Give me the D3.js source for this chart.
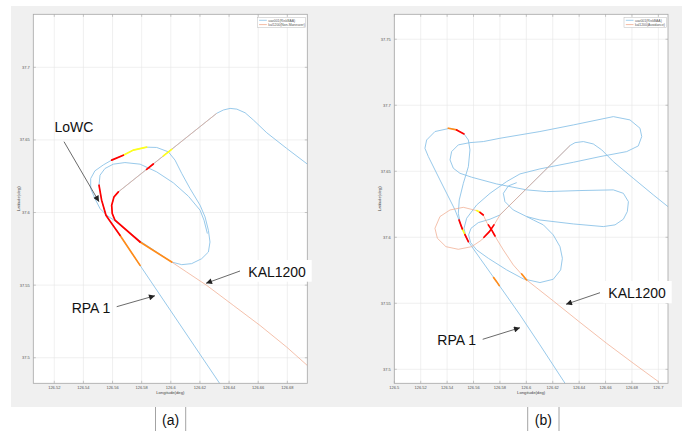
<!DOCTYPE html>
<html>
<head>
<meta charset="utf-8">
<script src="https://cdnjs.cloudflare.com/ajax/libs/d3/7.8.5/d3.min.js"></script>
<style>
  body { margin: 0; background: #fff; }
  svg { display: block; font-family: Arial, "Liberation Sans", sans-serif; }
</style>
</head>
<body>
<div id="chart"></div>
<script>
// tick values
const ticksLonA = [126.52, 126.54, 126.56, 126.58, 126.6, 126.62, 126.64, 126.66, 126.68];
const ticksLatA = [37.5, 37.55, 37.6, 37.65, 37.7];
const ticksLonB = [126.5, 126.52, 126.54, 126.56, 126.58, 126.6, 126.62, 126.64, 126.66, 126.68, 126.7];
const ticksLatB = [37.5, 37.55, 37.6, 37.65, 37.7, 37.75];

const legendA = ['uav001(RiskBAA)', 'kal1200(Non-Maneuver)'];
const legendB = ['uav001(RiskBAA)', 'kal1200(Avoidance)'];

// ---- panel (a) tracks [lon, lat]
const uavEntryA = [[126.6938,37.6333],[126.6796,37.6441],[126.6659,37.6549],[126.6567,37.6637],[126.6510,37.6687],[126.6453,37.6712],[126.6407,37.6717],[126.6361,37.6706],[126.6315,37.6683],[126.5640,37.6142]];
const uavRpaA = [[126.6384,37.4751],[126.5789,37.5636],[126.5651,37.5843],[126.5582,37.5942],[126.5555,37.5981],[126.5525,37.6085],[126.5507,37.6188]];
const uavLoopA = [[126.5514,37.6027],[126.5479,37.6096],[126.5450,37.6165],[126.5450,37.6234],[126.5479,37.6287],[126.5537,37.6328],[126.5594,37.6361],[126.5674,37.6395],[126.5743,37.6430],[126.5834,37.6450],[126.5903,37.6448],[126.5983,37.6418],[126.6029,37.6361],[126.6075,37.6269],[126.6132,37.6165],[126.6201,37.6050],[126.6235,37.5970],[126.6258,37.5878],[126.6269,37.5797],[126.6258,37.5728],[126.6212,37.5682],[126.6143,37.5648],[126.6075,37.5641],[126.6006,37.5659],[126.5789,37.5804],[126.5617,37.5942],[126.5560,37.5981],[126.5514,37.6027]];
const uavInnerA = [[126.5507,37.6188],[126.5514,37.6257],[126.5548,37.6303],[126.5605,37.6333],[126.5685,37.6344],[126.5789,37.6333],[126.5903,37.6280],[126.6018,37.6204],[126.6121,37.6112],[126.6201,37.6016],[126.6228,37.5947],[126.6251,37.5855]];
const kalA = [[126.6938,37.4946],[126.6796,37.5073],[126.6613,37.5222],[126.6430,37.5360],[126.6247,37.5498],[126.6109,37.5590],[126.6006,37.5659],[126.5789,37.5797],[126.5617,37.5947],[126.5598,37.5993],[126.5594,37.6050],[126.5610,37.6108],[126.5640,37.6142],[126.6315,37.6683]];

const redA = [
  [[126.5507,37.6188],[126.5525,37.6085],[126.5555,37.5981],[126.5582,37.5942],[126.5651,37.5843]],
  [[126.5789,37.5797],[126.5617,37.5947],[126.5598,37.5993],[126.5594,37.6050],[126.5610,37.6108],[126.5640,37.6142]],
  [[126.5834,37.6297],[126.5880,37.6334]],
  [[126.5594,37.6361],[126.5674,37.6395]]
];
const orangeA = [
  [[126.5789,37.5636],[126.5651,37.5843]],
  [[126.6006,37.5659],[126.5789,37.5797]]
];
const yellowA = [
  [[126.5674,37.6395],[126.5743,37.6430],[126.5834,37.6450]],
  [[126.5949,37.6390],[126.6006,37.6435]]
];

// ---- panel (b) tracks
const uavEntryB = [[126.7088,37.6220],[126.6962,37.6321],[126.6810,37.6447],[126.6659,37.6573],[126.6571,37.6662],[126.6507,37.6707],[126.6432,37.6725],[126.6369,37.6717],[126.6331,37.6695],[126.5800,37.6169]];
const uavRpaB = [[126.6318,37.4856],[126.6103,37.5185],[126.5952,37.5412],[126.5775,37.5664],[126.5649,37.5841],[126.5561,37.5967],[126.5518,37.6056],[126.5490,37.6131],[126.5460,37.6207],[126.5346,37.6434],[126.5258,37.6611],[126.5232,37.6674],[126.5245,37.6737],[126.5308,37.6801],[126.5422,37.6826],[126.5472,37.6813],[126.5528,37.6783],[126.5561,37.6737],[126.5573,37.6662],[126.5561,37.6535],[126.5523,37.6409],[126.5492,37.6283],[126.5485,37.6182],[126.5502,37.6094],[126.5535,37.6018],[126.5561,37.5967]];
const uavTrackB = [[126.5543,37.6005],[126.5528,37.6068],[126.5548,37.6144],[126.5624,37.6245],[126.5725,37.6333],[126.5851,37.6422],[126.5952,37.6480],[126.6103,37.6518],[126.6356,37.6568],[126.6558,37.6611],[126.6760,37.6649],[126.6848,37.6692],[126.6874,37.6763],[126.6861,37.6826],[126.6785,37.6889],[126.6659,37.6914],[126.6356,37.6851],[126.6103,37.6801],[126.5800,37.6750],[126.5674,37.6725],[126.5573,37.6717],[126.5485,37.6700],[126.5434,37.6649],[126.5422,37.6586],[126.5447,37.6523],[126.5497,37.6485],[126.5586,37.6455],[126.5775,37.6404],[126.6002,37.6359],[126.6154,37.6346],[126.6406,37.6354],[126.6659,37.6359],[126.6735,37.6333],[126.6773,37.6270],[126.6765,37.6195],[126.6735,37.6137],[126.6672,37.6094],[126.6583,37.6081],[126.6356,37.6101],[126.6103,37.6131],[126.6002,37.6157],[126.5901,37.6207],[126.5838,37.6270],[126.5826,37.6333],[126.5864,37.6389],[126.5927,37.6414]];
const uavOvalB = [[126.5800,37.6169],[126.5725,37.6137],[126.5636,37.6111],[126.5581,37.6068],[126.5563,37.6018],[126.5578,37.5960],[126.5624,37.5904],[126.5712,37.5841],[126.5851,37.5753],[126.5977,37.5685],[126.6103,37.5657],[126.6204,37.5682],[126.6260,37.5753],[126.6273,37.5841],[126.6255,37.5929],[126.6204,37.6018],[126.6129,37.6094],[126.6053,37.6131],[126.6002,37.6157]];
const kalB = [[126.7000,37.4907],[126.6810,37.5046],[126.6608,37.5197],[126.6406,37.5356],[126.6204,37.5518],[126.6002,37.5677],[126.5901,37.5791],[126.5826,37.5904],[126.5775,37.5988],[126.5737,37.6056],[126.5699,37.6114],[126.5674,37.6169],[126.5624,37.6202],[126.5523,37.6227],[126.5422,37.6207],[126.5346,37.6157],[126.5308,37.6068],[126.5326,37.5993],[126.5391,37.5929],[126.5485,37.5909],[126.5586,37.5929],[126.5662,37.5980],[126.5720,37.6043],[126.5763,37.6106],[126.5800,37.6169],[126.6331,37.6695]];

const redB = [
  [[126.5472,37.6813],[126.5528,37.6783]],
  [[126.5561,37.5967],[126.5535,37.6021]],
  [[126.5515,37.6064],[126.5490,37.6131]],
  [[126.5763,37.6010],[126.5737,37.6056],[126.5712,37.6094]],
  [[126.5679,37.6000],[126.5720,37.6043],[126.5755,37.6094]],
  [[126.5649,37.6189],[126.5674,37.6169]]
];
const orangeB = [
  [[126.5409,37.6826],[126.5472,37.6813]],
  [[126.5752,37.5695],[126.5775,37.5664],[126.5795,37.5634]],
  [[126.6002,37.5677],[126.5965,37.5722]]
];
const yellowB = [
  [[126.5535,37.6021],[126.5515,37.6064]],
  [[126.5624,37.6202],[126.5649,37.6189]]
];

const W = 685, H = 431;
const blueColor = '#8cc3e8',
    kalColor = '#f0a88c',
    gridColor = '#e6e6e6',
    boxColor = '#a6a6a6';

const svg = d3.select('#chart').append('svg')
    .attr('width', W)
    .attr('height', H);

svg.append('defs').append('marker')
    .attr('id', 'arrowhead')
    .attr('viewBox', '0 0 10 10')
    .attr('refX', 10).attr('refY', 5)
    .attr('markerWidth', 7).attr('markerHeight', 6)
    .attr('markerUnits', 'userSpaceOnUse')
    .attr('orient', 'auto')
    .append('path')
    .attr('d', 'M0,0 L10,5 L0,10 z')
    .attr('fill', '#222');

// figure background
svg.append('rect')
    .attr('x', 11).attr('y', 6)
    .attr('width', 671).attr('height', 401)
    .attr('fill', '#f0f0f0');

const panels = [{
    id: 'a',
    box: { x0: 33.3, x1: 307.3, y0: 14.3, y1: 383.3 },
    lonDomain: [126.5056, 126.6937],
    latDomain: [37.4824, 37.7365],
    lonTicks: ticksLonA, latTicks: ticksLatA,
    blue: [uavEntryA, uavRpaA, uavLoopA, uavInnerA],
    kal: [kalA],
    red: redA, orange: orangeA, yellow: yellowA,
    legend: legendA, legendBox: [257.3, 17.3, 48.4, 10],
    notes: [
        { text: 'LoWC', x: 54.5, y: 131.5, from: [64, 141.7], to: [99, 201.7] },
        { text: 'RPA 1', x: 71.7, y: 313, from: [116.7, 306.7], to: [155, 295.7] },
        { text: 'KAL1200', x: 248.3, y: 276.5, from: [240, 271], to: [206, 283.3], bg: [241.7, 260, 70, 21.7] }
    ],
    caption: { text: '(a)', x: 170.6, lines: [155.5, 185.7] }
}, {
    id: 'b',
    box: { x0: 394.3, x1: 668, y0: 14.3, y1: 383.3 },
    lonDomain: [126.5, 126.7073],
    latDomain: [37.4894, 37.7689],
    lonTicks: ticksLonB, latTicks: ticksLatB,
    blue: [uavEntryB, uavRpaB, uavTrackB, uavOvalB],
    kal: [kalB],
    red: redB, orange: orangeB, yellow: yellowB,
    legend: legendB, legendBox: [624, 17.3, 42.4, 10],
    notes: [
        { text: 'KAL1200', x: 608.3, y: 298, from: [600, 292.7], to: [566, 304.3], bg: [603.3, 281, 68.4, 22.3] },
        { text: 'RPA 1', x: 437.3, y: 345, from: [482.7, 339.3], to: [520, 327.7] }
    ],
    caption: { text: '(b)', x: 543.3, lines: [527.7, 559] }
}];

panels.forEach(drawPanel);

function drawPanel(p) {
    const b = p.box;
    const x = d3.scaleLinear().domain(p.lonDomain).range([b.x0, b.x1]);
    const y = d3.scaleLinear().domain(p.latDomain).range([b.y1, b.y0]);
    const line = d3.line().x(d => x(d[0])).y(d => y(d[1]));

    const g = svg.append('g').attr('id', 'panel-' + p.id);

    g.append('clipPath').attr('id', 'clip-' + p.id)
        .append('rect')
        .attr('x', b.x0).attr('y', b.y0)
        .attr('width', b.x1 - b.x0).attr('height', b.y1 - b.y0);

    g.append('rect')
        .attr('x', b.x0).attr('y', b.y0)
        .attr('width', b.x1 - b.x0).attr('height', b.y1 - b.y0)
        .attr('fill', '#fff');

    // grid
    g.append('g').selectAll('line.gx').data(p.lonTicks).enter().append('line')
        .attr('x1', d => x(d)).attr('x2', d => x(d))
        .attr('y1', b.y0).attr('y2', b.y1)
        .attr('stroke', gridColor).attr('stroke-width', 0.6);
    g.append('g').selectAll('line.gy').data(p.latTicks).enter().append('line')
        .attr('y1', d => y(d)).attr('y2', d => y(d))
        .attr('x1', b.x0).attr('x2', b.x1)
        .attr('stroke', gridColor).attr('stroke-width', 0.6);

    const plot = g.append('g').attr('clip-path', 'url(#clip-' + p.id + ')');

    plot.selectAll('path.uav').data(p.blue).enter().append('path')
        .attr('d', line)
        .attr('fill', 'none')
        .attr('stroke', blueColor)
        .attr('stroke-width', 0.9);

    plot.selectAll('path.kal').data(p.kal).enter().append('path')
        .attr('d', line)
        .attr('fill', 'none')
        .attr('stroke', kalColor)
        .attr('stroke-opacity', 0.9)
        .attr('stroke-width', 0.8);

    // alert highlights
    [[p.orange, '#ff8c1a'], [p.yellow, '#ffff1a'], [p.red, '#ff0000']].forEach(([segs, col]) => {
        plot.append('g').selectAll('path').data(segs).enter().append('path')
            .attr('d', line)
            .attr('fill', 'none')
            .attr('stroke', col)
            .attr('stroke-width', 1.7)
            .attr('stroke-linecap', 'round');
    });

    // axes box + inward ticks
    g.append('rect')
        .attr('x', b.x0).attr('y', b.y0)
        .attr('width', b.x1 - b.x0).attr('height', b.y1 - b.y0)
        .attr('fill', 'none')
        .attr('stroke', boxColor).attr('stroke-width', 0.8);

    p.lonTicks.forEach(t => {
        g.append('line').attr('x1', x(t)).attr('x2', x(t)).attr('y1', b.y1).attr('y2', b.y1 - 2.5)
            .attr('stroke', boxColor).attr('stroke-width', 0.6);
        g.append('line').attr('x1', x(t)).attr('x2', x(t)).attr('y1', b.y0).attr('y2', b.y0 + 2.5)
            .attr('stroke', boxColor).attr('stroke-width', 0.6);
    });
    p.latTicks.forEach(t => {
        g.append('line').attr('y1', y(t)).attr('y2', y(t)).attr('x1', b.x0).attr('x2', b.x0 + 2.5)
            .attr('stroke', boxColor).attr('stroke-width', 0.6);
        g.append('line').attr('y1', y(t)).attr('y2', y(t)).attr('x1', b.x1).attr('x2', b.x1 - 2.5)
            .attr('stroke', boxColor).attr('stroke-width', 0.6);
    });

    g.append('g').selectAll('text').data(p.lonTicks).enter().append('text')
        .attr('x', d => x(d)).attr('y', b.y1 + 5.8)
        .attr('text-anchor', 'middle')
        .attr('font-size', 4)
        .attr('fill', '#555')
        .text(d => String(d));
    g.append('g').selectAll('text').data(p.latTicks).enter().append('text')
        .attr('x', b.x0 - 3.5).attr('y', d => y(d) + 1.4)
        .attr('text-anchor', 'end')
        .attr('font-size', 4)
        .attr('fill', '#555')
        .text(d => String(d));

    g.append('text')
        .attr('x', (b.x0 + b.x1) / 2).attr('y', b.y1 + 11)
        .attr('text-anchor', 'middle')
        .attr('font-size', 4.2).attr('fill', '#444')
        .text('Longitude(deg)');
    g.append('text')
        .attr('transform', 'translate(' + (b.x0 - 13.5) + ',' + ((b.y0 + b.y1) / 2) + ') rotate(-90)')
        .attr('text-anchor', 'middle')
        .attr('font-size', 4.2).attr('fill', '#444')
        .text('Latitude(deg)');

    // legend
    const lb = p.legendBox;
    const leg = g.append('g');
    leg.append('rect')
        .attr('x', lb[0]).attr('y', lb[1]).attr('width', lb[2]).attr('height', lb[3])
        .attr('fill', '#fff').attr('stroke', '#bbb').attr('stroke-width', 0.5);
    p.legend.forEach((name, i) => {
        const ly = lb[1] + 3 + i * 4.3;
        leg.append('line')
            .attr('x1', lb[0] + 1.8).attr('x2', lb[0] + 9.5)
            .attr('y1', ly).attr('y2', ly)
            .attr('stroke', i === 0 ? blueColor : kalColor).attr('stroke-width', 0.8);
        leg.append('text')
            .attr('x', lb[0] + 11).attr('y', ly + 1.2)
            .attr('font-size', 3.4).attr('fill', '#555')
            .text(name);
    });

    // annotations
    p.notes.forEach(n => {
        if (n.bg) {
            g.append('rect')
                .attr('x', n.bg[0]).attr('y', n.bg[1]).attr('width', n.bg[2]).attr('height', n.bg[3])
                .attr('fill', '#fff');
        }
        g.append('text')
            .attr('x', n.x).attr('y', n.y)
            .attr('font-size', 14).attr('fill', '#111')
            .text(n.text);
        g.append('line')
            .attr('x1', n.from[0]).attr('y1', n.from[1])
            .attr('x2', n.to[0]).attr('y2', n.to[1])
            .attr('stroke', '#444').attr('stroke-width', 0.8)
            .attr('marker-end', 'url(#arrowhead)');
    });

    // caption under the panel
    const c = p.caption;
    c.lines.forEach(lx => {
        svg.append('line')
            .attr('x1', lx).attr('x2', lx).attr('y1', 407).attr('y2', H)
            .attr('stroke', '#8c8c8c').attr('stroke-width', 0.8);
    });
    svg.append('text')
        .attr('x', c.x).attr('y', 425)
        .attr('text-anchor', 'middle')
        .attr('font-size', 14).attr('fill', '#111')
        .text(c.text);
}
</script>
</body>
</html>
